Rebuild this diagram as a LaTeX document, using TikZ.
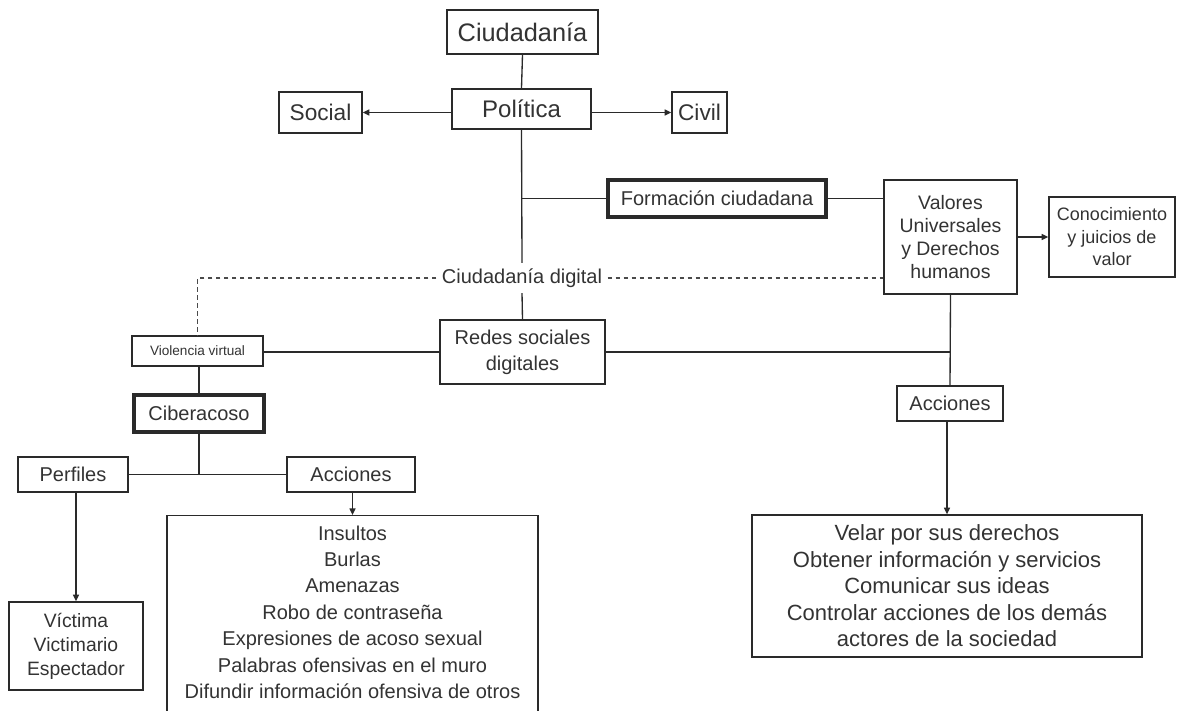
\documentclass[tikz,border=0pt]{standalone}
\usepackage{fontspec}
\setmainfont{Liberation Sans}
\usetikzlibrary{arrows.meta}
\definecolor{linec}{HTML}{2A2A2A}
\definecolor{textc}{HTML}{333333}
\newcommand{\fs}[2]{\fontsize{#1}{#2}\selectfont}
\begin{document}
\begin{tikzpicture}[x=0.75pt, y=-0.75pt,
    box/.style={draw=linec, line width=1pt, text=textc, inner sep=0pt, align=center},
    thickbox/.style={box, line width=2.6pt},
    link/.style={draw=linec, line width=1pt},
    arr/.style={link, -{Triangle[length=5pt,width=4.5pt]}},
    dash line/.style={draw=linec!85, line width=1pt, dash pattern=on 3.5pt off 2.5pt}]
    \fill[white, use as bounding box] (0,0) rectangle (1177,710);
    \clip (0,0) rectangle (1177,710);

    \node[box, minimum width=113.25pt, minimum height=33pt, font=\fs{19}{22}] (ciud) at (522.5,32) {Ciudadanía};
    \node[box, line width=1.6pt, minimum width=104.25pt, minimum height=30pt, font=\fs{18}{21}] (pol) at (521.5,109) {Política};
    \node[box, minimum width=62.25pt, minimum height=30.75pt, font=\fs{17}{20}] (social) at (320.5,112.5) {Social};
    \node[box, minimum width=41.25pt, minimum height=30.75pt, font=\fs{17}{20}] (civil) at (699.5,112.5) {Civil};

    \node[thickbox, minimum width=163.5pt, minimum height=27.75pt, font=\fs{15}{18}] (form) at (717,198.5) {Formación ciudadana};
    \node[box, minimum width=99.75pt, minimum height=85.5pt, font=\fs{14.6}{17.25}] (val) at (950.5,237) {Valores\\Universales\\y Derechos\\humanos};
    \node[box, minimum width=94.5pt, minimum height=60pt, font=\fs{13.5}{16.9}] (conoc) at (1112,237) {Conocimiento\\y juicios de\\valor};

    \node[text=textc, inner sep=4pt, font=\fs{15}{18}] (cdig) at (522,278) {Ciudadanía digital};
    \node[box, minimum width=98.25pt, minimum height=22.5pt, font=\fs{10.2}{12}] (viol) at (197.5,351) {Violencia virtual};
    \node[box, minimum width=123.75pt, minimum height=48pt, font=\fs{15}{19.5}] (redes) at (522.5,352) {Redes sociales\\digitales};

    \node[thickbox, minimum width=97.5pt, minimum height=27.75pt, font=\fs{15}{18}] (ciber) at (199,413.5) {Ciberacoso};
    \node[box, minimum width=82.5pt, minimum height=26.25pt, font=\fs{15}{18}] (perf) at (73,474.5) {Perfiles};
    \node[box, minimum width=96pt, minimum height=26.25pt, font=\fs{15}{18}] (accL) at (351,474.5) {Acciones};
    \node[box, minimum width=278.25pt, inner ysep=7.5pt, text depth=30pt, anchor=north, font=\fs{15}{19.8}] (listL) at (352.5,515)
        {Insultos\\Burlas\\Amenazas\\Robo de contraseña\\Expresiones de acoso sexual\\Palabras ofensivas en el muro\\Difundir información ofensiva de otros};
    \node[box, minimum width=100.5pt, minimum height=66pt, font=\fs{14.5}{18}] (vict) at (76,646) {Víctima\\Victimario\\Espectador};

    \node[box, minimum width=79.5pt, minimum height=26.25pt, font=\fs{15}{18}] (accR) at (950,403.5) {Acciones};
    \node[box, minimum width=292.5pt, minimum height=106.5pt, font=\fs{16.5}{19.9}] (listR) at (947,586)
        {Velar por sus derechos\\Obtener información y servicios\\Comunicar sus ideas\\Controlar acciones de los demás\\actores de la sociedad};

    \draw[link] (ciud.south) -- (pol.north);
    \draw[arr] (pol.west |- social) -- (social.east);
    \draw[arr] (pol.east |- civil) -- (civil.west);
    \draw[link] (pol.south) -- (cdig.north);
    \draw[link] (pol.south |- form.west) -- (form.west);
    \draw[link] (form.east) -- (form.east -| val.west);
    \draw[arr] (val.east) -- (conoc.west);

    \draw[dash line] (cdig.west) -- (viol.north |- cdig.west) -- (viol.north);
    \draw[dash line] (cdig.east) -- (cdig.east -| val.west);
    \draw[link] (cdig.south) -- (redes.north);
    \draw[link] (viol.east |- redes.west) -- (redes.west);
    \draw[link] (redes.east) -- (redes.east -| val.south);
    \draw[link] (val.south) -- (accR.north);
    \draw[arr] (accR.south -| listR.north) -- (listR.north);

    \draw[link] (viol.south -| ciber.north) -- (ciber.north);
    \draw[link] (ciber.south) -- (ciber.south |- perf.east);
    \draw[link] (perf.east) -- (accL.west);
    \draw[arr] (accL.south -| listL.north) -- (listL.north);
    \draw[arr] (perf.south -| vict.north) -- (vict.north);
\end{tikzpicture}
\end{document}
